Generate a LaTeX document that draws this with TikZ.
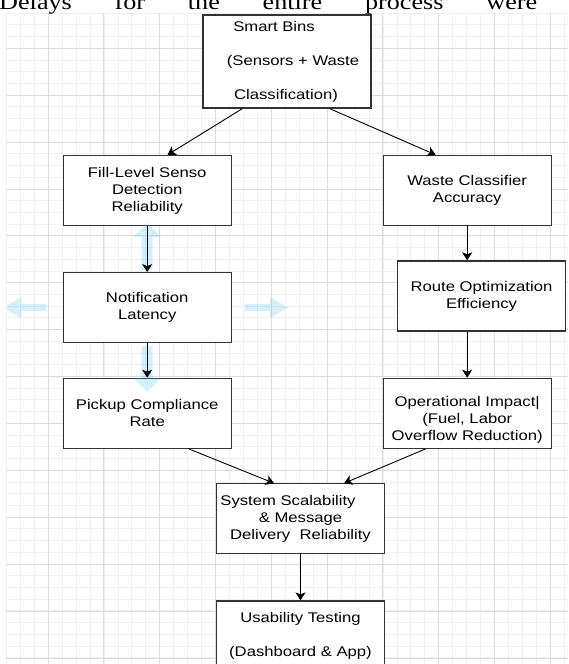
\documentclass[tikz,border=0pt]{standalone}
\usepackage{fontspec}
\setmainfont{Liberation Sans}[FakeStretch=1.19]
\newfontfamily\paperfont{Liberation Serif}[FakeStretch=1.19]
\usetikzlibrary{arrows.meta}
\definecolor{gridminor}{gray}{0.94}
\definecolor{gridmajor}{gray}{0.86}
\definecolor{hoverblue}{RGB}{41,182,242}
\definecolor{boxline}{gray}{0.2}

\begin{document}
\begin{tikzpicture}[x=1pt, y=-1pt,
    box/.style={draw=boxline, line width=1.2pt, fill=white, minimum width=168pt,
        minimum height=70pt, align=center, inner sep=2pt,
        font=\fontsize{14}{17}\selectfont},
    flow/.style={-{Stealth[length=8pt, width=10pt, inset=2pt]}, line width=0.9pt, black},
    hover/.style={fill=hoverblue, fill opacity=0.2}]

    % Page
    \clip (0,0) rectangle (568,664);
    \fill[white] (0,0) rectangle (568,664);

    % Grid
    \foreach \i in {0,...,40}
        \draw[gridminor, line width=0.8pt] ({6.3+13.95*\i},13) -- ({6.3+13.95*\i},664);
    \foreach \j in {0,...,56}
        \draw[gridminor, line width=0.8pt] (6.3,{13.1+11.72*\j}) -- (568,{13.1+11.72*\j});
    \foreach \i in {0,...,9}
        \draw[gridmajor, line width=1pt] ({48.1+55.8*\i},13) -- ({48.1+55.8*\i},664);
    \foreach \j in {0,...,13}
        \draw[gridmajor, line width=1pt] (6.3,{48.3+46.9*\j}) -- (568,{48.3+46.9*\j});

    % Line of the paper above the figure
    \node[anchor=base west, inner sep=0pt, font=\paperfont\fontsize{22}{26}\selectfont]
        (paper) at (-1,9) {\hbox to 538pt{Delays\hfill for\hfill the\hfill entire\hfill process\hfill were}};

    % Boxes
    \node[box, minimum height=93pt] (bins) at (287,61.5)
        {Smart Bins\hspace*{26pt}\\[17pt]\hspace*{12pt}(Sensors + Waste\\[17pt]Classification)\hspace*{2pt}};
    \node[box] (fill) at (147.2,190.4) {Fill-Level Senso\\Detection\\Reliability};
    \node[box] (notif) at (147.2,307.7) {Notification\\Latency};
    \node[box] (pickup) at (147.2,413.3) {Pickup Compliance\\Rate};
    \node[box] (waste) at (467.2,190.4) {Waste Classifier\\Accuracy};
    \node[box] (route) at (481.5,295.9) {Route Optimization\\Efficiency};
    \node[box] (oper) at (467.2,413.3)
        {\rule{0pt}{24pt}Operational Impact|\\(Fuel, Labor\\Overflow Reduction)};
    \node[box] (system) at (300.5,518.8)
        {System Scalability\hspace*{25pt}\\\& Message\\Delivery\ \ Reliability};
    \node[box] (usab) at (300.5,636) {Usability Testing\\[17pt](Dashboard \& App)};

    % Hover arrows round the selected box
    \begin{scope}[hover]
        \fill (141.7,270) -- (141.7,237) -- (133,237) -- (147.2,223)
            -- (161.4,237) -- (152.7,237) -- (152.7,270) -- cycle;
        \fill (141.7,346) -- (141.7,378) -- (133,378) -- (147.2,392)
            -- (161.4,378) -- (152.7,378) -- (152.7,346) -- cycle;
        \fill (245,304) -- (270,304) -- (270,297.2) -- (288,307.5)
            -- (270,317.8) -- (270,311) -- (245,311) -- cycle;
        \clip (7.3,0) rectangle (568,664);
        \fill (46,304) -- (21,304) -- (21,297.2) -- (3,307.5)
            -- (21,317.8) -- (21,311) -- (46,311) -- cycle;
    \end{scope}

    % Connectors
    \draw[flow] ([xshift=40pt]bins.south west) -- ([xshift=105pt]fill.north west);
    \draw[flow] ([xshift=-42pt]bins.south east) -- ([xshift=53pt]waste.north west);
    \draw[flow] (fill.south) -- (notif.north);
    \draw[flow] (notif.south) -- (pickup.north);
    \draw[flow] (waste.south) -- (waste.south |- route.north);
    \draw[flow] (route.south -| oper.north) -- (oper.north);
    \draw[flow] ([xshift=-43pt]pickup.south east) -- ([xshift=58pt]system.north west);
    \draw[flow] ([xshift=43pt]oper.south west) -- ([xshift=-41pt]system.north east);
    \draw[flow] (system.south) -- (usab.north);

\end{tikzpicture}
\end{document}
